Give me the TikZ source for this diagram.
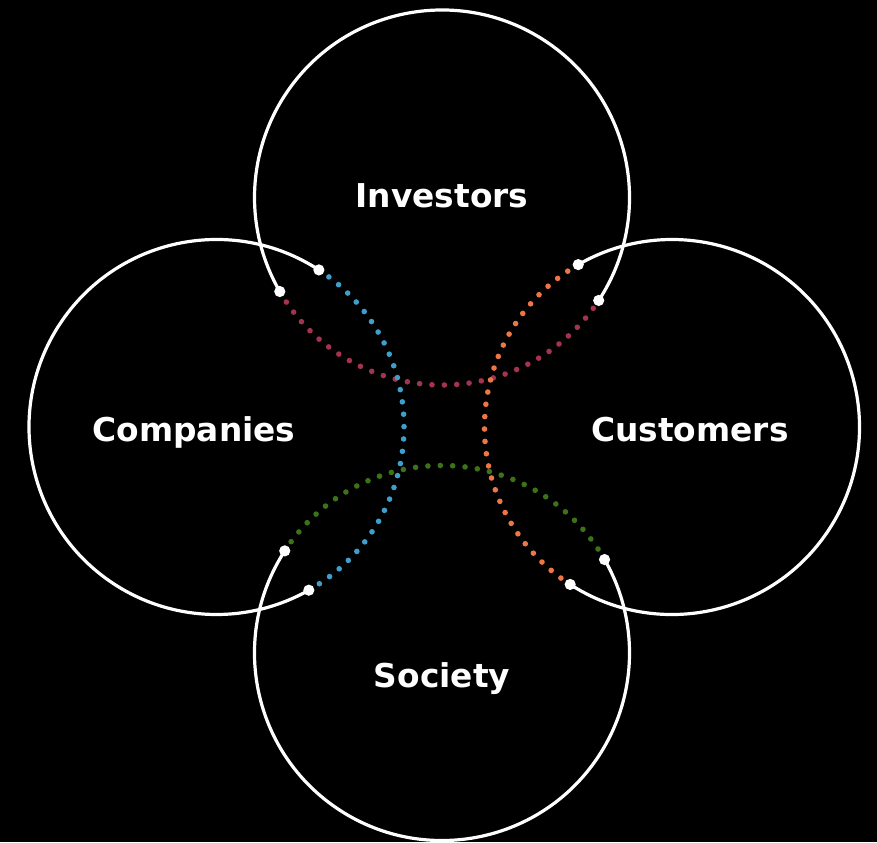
\documentclass[tikz,border=0pt]{standalone}
\usepackage{fontspec}
\newfontfamily\labelfont{DejaVu Sans}
\usetikzlibrary{positioning}
\definecolor{invred}{HTML}{A3334F}
\definecolor{compblue}{HTML}{3E9FCC}
\definecolor{custorange}{HTML}{EE7645}
\definecolor{socgreen}{HTML}{3C7318}
\tikzset{
    ring/.style={draw=white, line width=1.6pt},
    dotarc/.style={line width=2.8pt, line cap=round, dash pattern=on 0pt off 6.2pt},
    enddot/.style={fill=white},
    stake/.style={text=white, font=\labelfont\bfseries\fontsize{16.4pt}{19pt}\selectfont}
}

\begin{document}
\begin{tikzpicture}[x=0.5pt, y=0.5pt]

    % Background
    \fill[black] (0,0) rectangle (877,842);
    \useasboundingbox (0,0) rectangle (877,842);

    % Circle centres
    \coordinate (inv) at (442,644.5);
    \coordinate (comp) at (216.5,415);
    \coordinate (cust) at (672,415);
    \coordinate (soc) at (442,189);

    % Investors
    \draw[ring] (inv) ++(326.7:187.5) arc[start angle=326.7, end angle=570.1, radius=93.75pt];
    \draw[dotarc, invred] (inv) ++(210.1:187.5) arc[start angle=210.1, end angle=326.7, radius=93.75pt];

    % Companies
    \draw[ring] (comp) ++(56.9:187.5) arc[start angle=56.9, end angle=299.5, radius=93.75pt];
    \draw[dotarc, compblue] (comp) ++(-60.5:187.5) arc[start angle=-60.5, end angle=56.9, radius=93.75pt];

    % Customers
    \draw[ring] (cust) ++(237.1:187.5) arc[start angle=237.1, end angle=480, radius=93.75pt];
    \draw[dotarc, custorange] (cust) ++(120:187.5) arc[start angle=120, end angle=237.1, radius=93.75pt];

    % Society
    \draw[ring] (soc) ++(147:187.5) arc[start angle=147, end angle=389.9, radius=93.75pt];
    \draw[dotarc, socgreen] (soc) ++(29.9:187.5) arc[start angle=29.9, end angle=147, radius=93.75pt];

    % End dots
    \fill[enddot] (inv) ++(210.1:187.5) circle[radius=2.8pt];
    \fill[enddot] (inv) ++(326.7:187.5) circle[radius=2.8pt];
    \fill[enddot] (comp) ++(56.9:187.5) circle[radius=2.8pt];
    \fill[enddot] (comp) ++(-60.5:187.5) circle[radius=2.8pt];
    \fill[enddot] (cust) ++(120:187.5) circle[radius=2.8pt];
    \fill[enddot] (cust) ++(237.1:187.5) circle[radius=2.8pt];
    \fill[enddot] (soc) ++(29.9:187.5) circle[radius=2.8pt];
    \fill[enddot] (soc) ++(147:187.5) circle[radius=2.8pt];

    % Labels
    \node[stake] (investors) at (442,646) {Investors};
    \node[stake] (companies) at (194,409.5) {Companies};
    \node[stake] (customers) at (690,412) {Customers};
    \node[stake] (society) at (442,163) {Society};

\end{tikzpicture}
\end{document}
